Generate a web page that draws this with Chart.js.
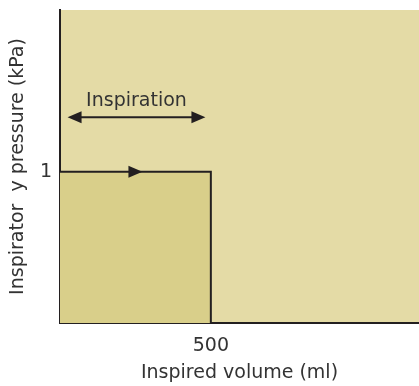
<!DOCTYPE html>
<html>
<head>
<meta charset="utf-8">
<script src="https://cdn.jsdelivr.net/npm/chart.js@4.4.1/dist/chart.umd.min.js"></script>
<style>
  html, body { margin: 0; padding: 0; background: #ffffff; }
  #wrap { width: 419px; height: 386px; position: relative; }
</style>
</head>
<body>
<div id="wrap"><canvas id="loop"></canvas></div>
<script>
// Trajet pression / volume pendant l'inspiration
const loopX = [0, 500, 500];
const loopY = [1, 1, 0];
const xTicks = [500];
const yTicks = [1];
const xRange = [0, 1190];
const yRange = [0, 2.07];

// Flèche "Inspiration" (double) et flèche de direction sur le trait
const spanLabel = 'Inspiration';
const spanX = [25, 482];
const spanY = 1.36;
const dirArrowX = 250;

const INK = '#231f20';
const TEXT = '#333333';
const FONT = "'DejaVu Sans', sans-serif";

function head(ctx, x, y, dir, len, half) {
    ctx.beginPath();
    ctx.moveTo(x, y);
    ctx.lineTo(x - dir * len, y - half);
    ctx.lineTo(x - dir * len, y + half);
    ctx.closePath();
    ctx.fill();
}

const areaBg = {
    id: 'areaBg',
    beforeDraw(chart) {
        const { ctx, chartArea: a } = chart;
        ctx.save();
        ctx.fillStyle = '#e4dba6';
        ctx.fillRect(a.left, a.top, a.right - a.left, a.bottom - a.top);
        ctx.restore();
    }
};

const annotations = {
    id: 'annotations',
    afterDatasetsDraw(chart) {
        const { ctx, scales: { x, y } } = chart;
        ctx.save();
        ctx.strokeStyle = INK;
        ctx.fillStyle = INK;
        ctx.lineWidth = 2;

        const x0 = x.getPixelForValue(spanX[0]);
        const x1 = x.getPixelForValue(spanX[1]);
        const yy = y.getPixelForValue(spanY);
        ctx.beginPath();
        ctx.moveTo(x0 + 8, yy);
        ctx.lineTo(x1 - 8, yy);
        ctx.stroke();
        head(ctx, x0, yy, -1, 14, 6);
        head(ctx, x1, yy, 1, 14, 6);

        ctx.fillStyle = TEXT;
        ctx.font = '19px ' + FONT;
        ctx.textAlign = 'center';
        ctx.textBaseline = 'bottom';
        ctx.fillText(spanLabel, (x0 + x1) / 2, yy - 7);

        // flèche sur le trait supérieur
        ctx.fillStyle = INK;
        const ax = x.getPixelForValue(dirArrowX);
        const ay = y.getPixelForValue(loopY[0]);
        head(ctx, ax + 7, ay, 1, 14, 6);
        ctx.restore();
    }
};

new Chart(document.getElementById('loop'), {
    type: 'scatter',
    data: {
        datasets: [{
            data: loopX.map((v, i) => ({ x: v, y: loopY[i] })),
            showLine: true,
            borderColor: INK,
            borderWidth: 2,
            backgroundColor: '#d9cf8a',
            fill: 'origin',
            pointRadius: 0,
            tension: 0
        }]
    },
    options: {
        responsive: true,
        maintainAspectRatio: false,
        animation: false,
        layout: { padding: { top: 10, right: 0, left: 7, bottom: 2 } },
        plugins: {
            legend: { display: false },
            tooltip: { enabled: false }
        },
        scales: {
            x: {
                type: 'linear',
                min: xRange[0],
                max: xRange[1],
                afterBuildTicks: (s) => { s.ticks = xTicks.map(v => ({ value: v })); },
                afterFit: (s) => { s.height = 61; s.paddingLeft = 0; s.paddingRight = 0; },
                grid: { display: false, drawTicks: false },
                border: { color: INK, width: 2 },
                ticks: { color: TEXT, font: { family: FONT, size: 19 }, padding: 12 },
                title: {
                    display: true,
                    text: 'Inspired volume (ml)',
                    color: TEXT,
                    font: { family: FONT, size: 19 },
                    padding: { top: 0, bottom: 0 }
                }
            },
            y: {
                type: 'linear',
                min: yRange[0],
                max: yRange[1],
                afterBuildTicks: (s) => { s.ticks = yTicks.map(v => ({ value: v })); },
                afterFit: (s) => { s.width = 53; s.paddingTop = 0; s.paddingBottom = 0; },
                grid: { display: false, drawTicks: false },
                border: { color: INK, width: 2 },
                ticks: { color: TEXT, font: { family: FONT, size: 19 }, padding: 8 },
                title: {
                    display: true,
                    text: 'Inspirator  y pressure (kPa)',
                    color: TEXT,
                    font: { family: FONT, size: 19 },
                    padding: { top: 0, bottom: 0 }
                }
            }
        }
    },
    plugins: [areaBg, annotations]
});
</script>
</body>
</html>
